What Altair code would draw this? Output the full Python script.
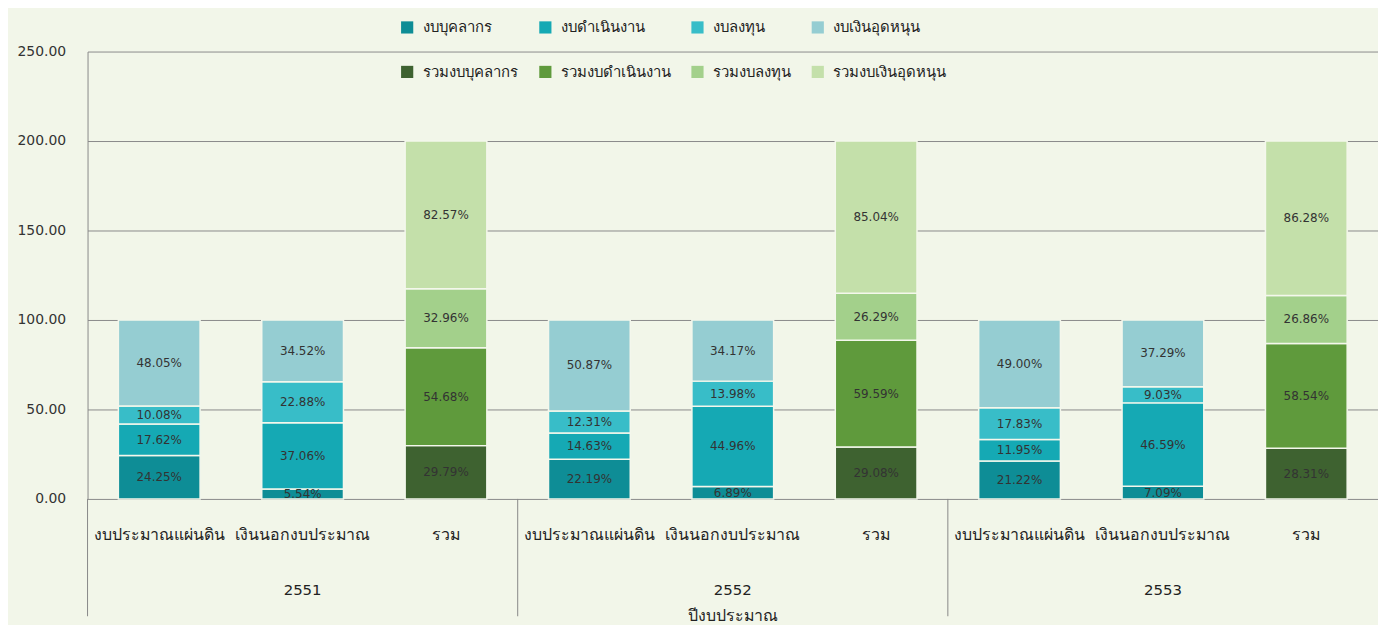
import altair as alt
import pandas as pd

years = ["2551", "2552", "2553"]
groups = ["งบประมาณแผ่นดิน", "เงินนอกงบประมาณ", "รวม"]
series_budget = ["งบบุคลากร", "งบดำเนินงาน", "งบลงทุน", "งบเงินอุดหนุน"]
series_total = ["รวมงบบุคลากร", "รวมงบดำเนินงาน", "รวมงบลงทุน", "รวมงบเงินอุดหนุน"]
colors_budget = ["#0E8D96", "#15A9B4", "#38BDC8", "#95CDD2"]
colors_total = ["#3E6230", "#5F9A3C", "#A3D08B", "#C4E0AA"]

# [บุคลากร, ดำเนินงาน, ลงทุน, เงินอุดหนุน] (%)
v2551_land = [24.25, 17.62, 10.08, 48.05]
v2551_extra = [5.54, 37.06, 22.88, 34.52]
v2551_total = [29.79, 54.68, 32.96, 82.57]
v2552_land = [22.19, 14.63, 12.31, 50.87]
v2552_extra = [6.89, 44.96, 13.98, 34.17]
v2552_total = [29.08, 59.59, 26.29, 85.04]
v2553_land = [21.22, 11.95, 17.83, 49.00]
v2553_extra = [7.09, 46.59, 9.03, 37.29]
v2553_total = [28.31, 58.54, 26.86, 86.28]

values = {
    "2551": [v2551_land, v2551_extra, v2551_total],
    "2552": [v2552_land, v2552_extra, v2552_total],
    "2553": [v2553_land, v2553_extra, v2553_total],
}

rows = []
keys = []
for y in years:
    for gi, g in enumerate(groups):
        key = y + "|" + g
        keys.append(key)
        names = series_total if g == "รวม" else series_budget
        for i, v in enumerate(values[y][gi]):
            rows.append({"key": key, "series": names[i], "idx": i, "value": v})
df = pd.DataFrame(rows)

df_years = pd.DataFrame({"key": [y + "|" + groups[1] for y in years], "year": years})
df_sep = pd.DataFrame({"key": [y + "|" + groups[0] for y in years]})

W, H = 1298, 450
FONT = "DejaVu Sans"

xscale = alt.Scale(domain=keys, paddingInner=0, paddingOuter=0)
color = alt.Color(
    "series:N",
    scale=alt.Scale(domain=series_budget + series_total, range=colors_budget + colors_total),
    legend=alt.Legend(
        title=None, orient="none", legendX=314, legendY=-32, columns=4, direction="horizontal",
        symbolType="square", symbolSize=150, symbolStrokeWidth=0,
        labelFontSize=15, labelFont=FONT, labelColor="#222",
        rowPadding=29, columnPadding=19, labelOffset=8,
    ),
)

bars = alt.Chart(df).mark_bar(width=alt.RelativeBandSize(0.57), stroke="#F4F7EC", strokeWidth=1.5).encode(
    x=alt.X("key:N", scale=xscale, title="ปีงบประมาณ",
            axis=alt.Axis(labelExpr="split(datum.value, '|')[1]", labelAngle=0, labelFontSize=16,
                          labelFont=FONT, labelColor="#222", labelPadding=28, ticks=False, domain=False,
                          titleFontSize=16, titleFont=FONT, titleFontWeight="normal", titleColor="#222",
                          titlePadding=65)),
    y=alt.Y("value:Q", stack="zero", scale=alt.Scale(domain=[0, 250], nice=False), title=None,
            axis=alt.Axis(values=[0, 50, 100, 150, 200, 250], format=".2f", labelFontSize=14,
                          labelFont=FONT, labelColor="#333", labelPadding=22, ticks=False,
                          domainColor="#888", gridColor="#8a8a8a", gridWidth=1)),
    color=color,
    order=alt.Order("idx:Q"),
)

labels = alt.Chart(df).transform_stack(
    stack="value", as_=["y0", "y1"], groupby=["key"], sort=[alt.SortField("idx")]
).transform_calculate(
    mid="(datum.y0 + datum.y1) / 2", label="format(datum.value, '.2f') + '%'"
).mark_text(fontSize=12, font=FONT, color="#333").encode(
    x=alt.X("key:N", scale=xscale),
    y=alt.Y("mid:Q"),
    text="label:N",
)

year_text = alt.Chart(df_years).mark_text(fontSize=15, font=FONT, color="#222").encode(
    x=alt.X("key:N", scale=xscale),
    y=alt.value(H + 92),
    text="year:N",
)

seps = alt.Chart(df_sep).mark_rule(color="#888", strokeWidth=1).encode(
    x=alt.X("key:N", scale=xscale, bandPosition=0),
    y=alt.value(0 + H),
    y2=alt.value(H + 118),
)

chart = alt.layer(bars, labels, year_text, seps).properties(
    width=W, height=H, background="#F2F6E9",
    padding={"left": 9, "top": 10, "right": 0, "bottom": 0},
).configure_view(stroke=None)

chart.save("out.html", embed_options={"renderer": "svg", "actions": False})
